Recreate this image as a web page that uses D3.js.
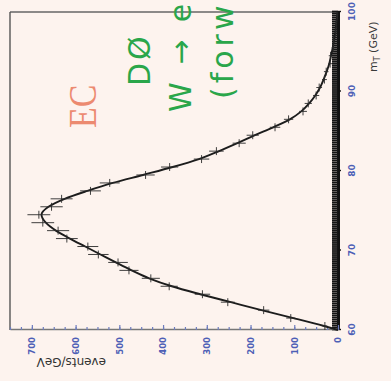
<!DOCTYPE html>
<html>
<head>
<meta charset="utf-8">
<script src="https://cdn.jsdelivr.net/npm/d3@7"></script>
<style>
  html, body { margin: 0; padding: 0; background: #fdf3ee; }
  svg { display: block; }
</style>
</head>
<body>
<svg id="chart" width="391" height="381"></svg>
<script>
// Transverse-mass bins (GeV, bin centres) and measured events per GeV
const mtBins = [60.5, 61.5, 62.5, 63.5, 64.5, 65.5, 66.5, 67.5, 68.5, 69.5,
                70.5, 71.5, 72.5, 73.5, 74.5, 75.5, 76.5, 77.5, 78.5, 79.5,
                80.5, 81.5, 82.5, 83.5, 84.5, 85.5, 86.5, 87.5, 88.5, 89.5,
                90.5, 91.5, 92.5, 93.5, 94.5, 95.5, 96.5, 97.5, 98.5, 99.5];
const eventsPerGeV = [30, 108, 170, 252, 310, 386, 428, 478, 503, 548,
                      572, 620, 640, 675, 684, 655, 632, 566, 522, 440,
                      385, 312, 278, 226, 195, 144, 113, 80, 68, 50,
                      43, 31, 27, 18, 17, 11, 10, 5, 4, 2];

// Fitted spectrum
const fitMt = [60, 60.5, 61.5, 62.5, 63.5, 64.5, 65.5, 66.5, 67.5, 68.5, 69.5,
               70.5, 71.5, 72.5, 73.5, 74.5, 75.5, 76.5, 77.5, 78.5, 79.5,
               80.5, 81.5, 82.5, 83.5, 84.5, 85.5, 86.5, 87.5, 88.5, 89.5,
               90.5, 91.5, 92.5, 93.5, 94.5, 95.5, 96.5, 97.5, 98.5, 99.5, 100];
const fitEvents = [0, 32, 102, 175, 245, 315, 380, 432, 472, 508, 543,
                   578, 613, 645, 668, 678, 662, 625, 573, 515, 446,
                   378, 318, 272, 230, 190, 148, 110, 84, 66, 52,
                   41, 33, 26, 20, 16, 12, 9, 6, 4, 2, 1];

// Axis ticks
const mtTicks = [60, 70, 80, 90, 100];
const eventTicks = [0, 100, 200, 300, 400, 500, 600, 700];

const svg = d3.select("#chart");
svg.append("rect").attr("width", 391).attr("height", 381).attr("fill", "#fdf3ee");

// Plot frame in its own (unrotated) coordinates; the whole panel is turned a quarter turn
const W = 318, H = 328;
const x = d3.scaleLinear().domain([60, 100]).range([0, W]);
const y = d3.scaleLinear().domain([0, 750]).range([H, 0]);

const g = svg.append("g").attr("transform", "translate(10,330) rotate(-90)");

// frame edges (far mT edge and top of the event scale)
g.append("line").attr("x1", W).attr("x2", W).attr("y1", 0).attr("y2", H)
  .attr("stroke", "#666").attr("stroke-width", 1.4);
g.append("line").attr("x1", 0).attr("x2", W).attr("y1", 0).attr("y2", 0)
  .attr("stroke", "#555").attr("stroke-width", 1.4);

// mT axis: dense fine ticks forming a heavy band, plus labelled major ticks
const fineTicks = d3.range(60, 100.001, 0.25);
const mtFine = g.append("g").attr("transform", `translate(0,${H})`)
  .call(d3.axisBottom(x).tickValues(fineTicks).tickSizeInner(-6).tickSizeOuter(0).tickFormat(""));
mtFine.selectAll("line").attr("stroke", "#151515").attr("stroke-width", 1.8);
mtFine.select(".domain").attr("stroke", "#111").attr("stroke-width", 3);

const mtAxis = g.append("g").attr("transform", `translate(0,${H})`)
  .call(d3.axisBottom(x).tickValues(mtTicks).tickSizeInner(3).tickSizeOuter(0).tickPadding(8));
mtAxis.select(".domain").remove();
mtAxis.selectAll("line").attr("stroke", "#111").attr("stroke-width", 1.4);
mtAxis.selectAll("text")
  .attr("font-family", "DejaVu Sans, sans-serif").attr("font-size", 9)
  .attr("font-weight", "bold").attr("fill", "#4d5fb6");

// event axis: minor ticks every 25, labelled every 100
const evMinor = g.append("g")
  .call(d3.axisLeft(y).tickValues(d3.range(0, 751, 25)).tickSizeInner(-3).tickSizeOuter(0).tickFormat(""));
evMinor.selectAll("line").attr("stroke", "#6d7cbd").attr("stroke-width", 1.2);
evMinor.select(".domain").attr("stroke", "#777").attr("stroke-width", 1.4);

const evAxis = g.append("g")
  .call(d3.axisLeft(y).tickValues(eventTicks).tickSizeInner(-5).tickSizeOuter(0).tickPadding(7));
evAxis.select(".domain").remove();
evAxis.selectAll("line").attr("stroke", "#6d7cbd").attr("stroke-width", 1.2);
evAxis.selectAll("text")
  .attr("font-family", "DejaVu Sans, sans-serif").attr("font-size", 8.5)
  .attr("font-weight", "bold").attr("fill", "#4d5fb6");

// fitted curve
const fitData = fitMt.map((m, i) => ({ m, v: fitEvents[i] }));
g.append("path").datum(fitData)
  .attr("fill", "none").attr("stroke", "#1c1c1c").attr("stroke-width", 1.9)
  .attr("d", d3.line().x(d => x(d.m)).y(d => y(d.v)).curve(d3.curveMonotoneX));

// data points: bin-width bar and statistical error bar
const pts = mtBins.map((m, i) => ({ m, v: eventsPerGeV[i], e: Math.sqrt(eventsPerGeV[i]) }));
const marks = g.append("g").attr("stroke", "#2a2a2a").attr("stroke-width", 0.9);
marks.selectAll(".bw").data(pts).join("line")
  .attr("x1", d => x(d.m - 0.5)).attr("x2", d => x(d.m + 0.5))
  .attr("y1", d => y(d.v)).attr("y2", d => y(d.v));
marks.selectAll(".eb").data(pts).join("line")
  .attr("x1", d => x(d.m)).attr("x2", d => x(d.m))
  .attr("y1", d => y(d.v - d.e)).attr("y2", d => y(d.v + d.e));

// axis titles
svg.append("text")
  .attr("transform", "translate(377,72) rotate(-90)")
  .attr("font-family", "DejaVu Sans, sans-serif").attr("font-size", 11)
  .attr("fill", "#3a3a3a")
  .call(t => {
    t.append("tspan").text("m");
    t.append("tspan").attr("dy", 3).attr("font-size", 8).text("T");
    t.append("tspan").attr("dy", -3).text(" (GeV)");
  });

svg.append("text")
  .attr("transform", "translate(106,358) rotate(180)")
  .attr("font-family", "DejaVu Sans, sans-serif").attr("font-size", 12)
  .attr("fill", "#333").text("events/GeV");

// annotations
svg.append("text")
  .attr("transform", "translate(96,128) rotate(-90) scale(1,1.2)")
  .attr("font-family", "Liberation Serif, serif").attr("font-size", 34)
  .attr("fill", "#ec8a70").text("EC");

const green = "#2aa64a";
const hand = [
  { t: "DØ", tx: 150, ty: 86, ls: 3 },
  { t: "W → e", tx: 191, ty: 112, ls: 4 },
  { t: "(forw", tx: 233, ty: 99, ls: 4 }
];
svg.selectAll(".hand").data(hand).join("text")
  .attr("transform", d => `translate(${d.tx},${d.ty}) rotate(-90)`)
  .attr("font-family", "DejaVu Sans, sans-serif").attr("font-size", 30)
  .attr("letter-spacing", d => d.ls)
  .attr("fill", green)
  .text(d => d.t);
</script>
</body>
</html>
